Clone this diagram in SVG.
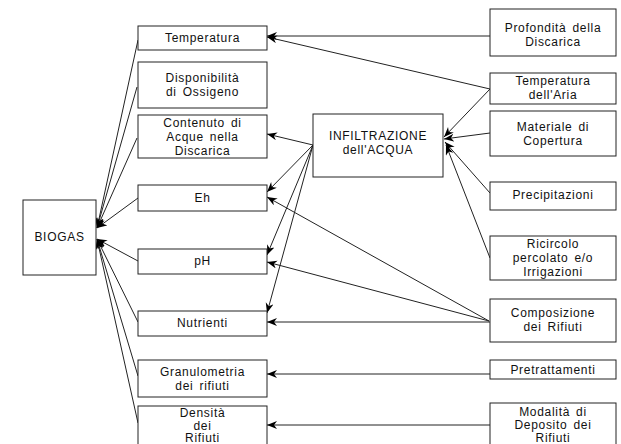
<svg xmlns="http://www.w3.org/2000/svg" width="621" height="444" viewBox="0 0 621 444">
<style>
.box{fill:#fff;stroke:#222;stroke-width:1}
.t{font-family:"Liberation Sans",Arial,sans-serif;font-size:12px;letter-spacing:0.7px;word-spacing:2px;fill:#111;text-anchor:middle}
.c{stroke:#222;stroke-width:1;fill:none;marker-end:url(#ah)}
</style>
<defs>
<marker id="ah" markerUnits="userSpaceOnUse" markerWidth="12" markerHeight="10" refX="10" refY="4" orient="auto">
<path d="M0,0 L10,4 L0,8 L3,4 Z" fill="#000"/>
</marker>
</defs>
<rect width="621" height="444" fill="#fff"/>
<g id="connectors">
<line class="c" x1="138" y1="40" x2="97" y2="228"/>
<line class="c" x1="137" y1="87" x2="97" y2="228"/>
<line class="c" x1="137" y1="138" x2="97" y2="228"/>
<line class="c" x1="138" y1="198" x2="97" y2="228"/>
<line class="c" x1="138" y1="261" x2="97" y2="239"/>
<line class="c" x1="138" y1="322" x2="97" y2="239"/>
<line class="c" x1="138" y1="376" x2="97" y2="239"/>
<line class="c" x1="138" y1="423" x2="97" y2="239"/>
<line class="c" x1="490" y1="36" x2="267" y2="36"/>
<line class="c" x1="490" y1="89" x2="267" y2="37"/>
<line class="c" x1="490" y1="89" x2="444" y2="137"/>
<line class="c" x1="490" y1="133" x2="444" y2="139"/>
<line class="c" x1="490" y1="193" x2="445" y2="142"/>
<line class="c" x1="490" y1="258" x2="446" y2="145"/>
<line class="c" x1="313" y1="145" x2="267" y2="134"/>
<line class="c" x1="313" y1="145" x2="267" y2="192"/>
<line class="c" x1="313" y1="145" x2="267" y2="255"/>
<line class="c" x1="313" y1="145" x2="267" y2="313"/>
<line class="c" x1="489" y1="321" x2="267" y2="197"/>
<line class="c" x1="489" y1="321" x2="267" y2="262"/>
<line class="c" x1="490" y1="322" x2="267" y2="322"/>
<line class="c" x1="490" y1="374" x2="267" y2="374"/>
<line class="c" x1="490" y1="425" x2="267" y2="425"/>
</g>
<g id="biogas"><rect class="box" x="23" y="200" width="73" height="75"/><text class="t" x="59.5" y="241">BIOGAS</text></g>
<g id="temperatura"><rect class="box" x="138" y="26" width="129" height="24"/><text class="t" x="202.5" y="42">Temperatura</text></g>
<g id="ossigeno"><rect class="box" x="138" y="62" width="129" height="46"/><text class="t" x="202.5" y="82">Disponibilità</text><text class="t" x="202.5" y="96">di Ossigeno</text></g>
<g id="contenuto"><rect class="box" x="138" y="115" width="129" height="43"/><text class="t" x="202.5" y="127">Contenuto di</text><text class="t" x="202.5" y="141">Acque nella</text><text class="t" x="202.5" y="155">Discarica</text></g>
<g id="eh"><rect class="box" x="138" y="185" width="129" height="26"/><text class="t" x="202.5" y="202">Eh</text></g>
<g id="ph"><rect class="box" x="138" y="249" width="129" height="25"/><text class="t" x="202.5" y="265">pH</text></g>
<g id="nutrienti"><rect class="box" x="138" y="311" width="129" height="25"/><text class="t" x="202.5" y="327">Nutrienti</text></g>
<g id="granulometria"><rect class="box" x="138" y="360" width="129" height="37"/><text class="t" x="202.5" y="376">Granulometria</text><text class="t" x="202.5" y="390">dei rifiuti</text></g>
<g id="densita"><rect class="box" x="138" y="406" width="129" height="50"/><text class="t" x="202.5" y="417">Densità</text><text class="t" x="202.5" y="429.5">dei</text><text class="t" x="202.5" y="442">Rifiuti</text></g>
<g id="infiltrazione"><rect class="box" x="313" y="114" width="130" height="63"/><text class="t" x="378" y="140">INFILTRAZIONE</text><text class="t" x="378" y="154">dell'ACQUA</text></g>
<g id="profondita"><rect class="box" x="490" y="9" width="126" height="47"/><text class="t" x="553" y="32">Profondità della</text><text class="t" x="553" y="46">Discarica</text></g>
<g id="tempaaria"><rect class="box" x="490" y="73" width="126" height="31"/><text class="t" x="553" y="85">Temperatura</text><text class="t" x="553" y="99">dell'Aria</text></g>
<g id="materiale"><rect class="box" x="490" y="111" width="126" height="45"/><text class="t" x="553" y="131">Materiale di</text><text class="t" x="553" y="145">Copertura</text></g>
<g id="precipitazioni"><rect class="box" x="490" y="182" width="126" height="28"/><text class="t" x="553" y="199">Precipitazioni</text></g>
<g id="ricircolo"><rect class="box" x="490" y="236" width="126" height="44"/><text class="t" x="553" y="248">Ricircolo</text><text class="t" x="553" y="262">percolato e/o</text><text class="t" x="553" y="276">Irrigazioni</text></g>
<g id="composizione"><rect class="box" x="490" y="299" width="126" height="43"/><text class="t" x="553" y="317">Composizione</text><text class="t" x="553" y="331">dei Rifiuti</text></g>
<g id="pretrattamenti"><rect class="box" x="490" y="360" width="126" height="19"/><text class="t" x="553" y="374">Pretrattamenti</text></g>
<g id="modalita"><rect class="box" x="490" y="403" width="126" height="50"/><text class="t" x="553" y="416">Modalità di</text><text class="t" x="553" y="429">Deposito dei</text><text class="t" x="553" y="442">Rifiuti</text></g>
</svg>
